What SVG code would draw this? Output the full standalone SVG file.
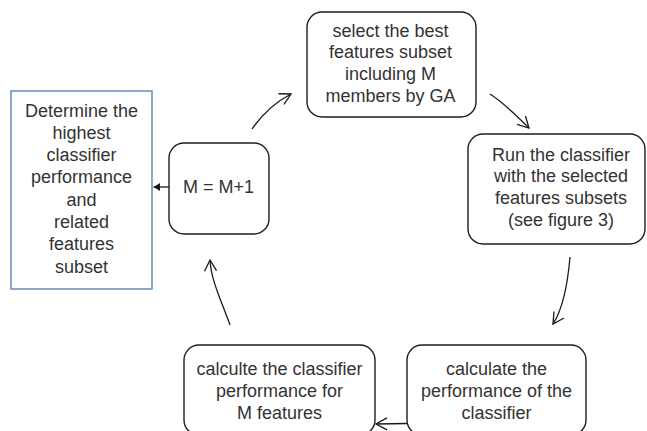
<svg xmlns="http://www.w3.org/2000/svg" width="647" height="431" viewBox="0 0 647 431">
<defs>
<style>
.box{fill:#fff;stroke:#1e1e1e;stroke-width:1.4}
.blue{fill:#fff;stroke:#6f93bb;stroke-width:1.6}
text{font-family:"Liberation Sans",Arial,sans-serif;font-size:18px;fill:#333;text-anchor:middle}
.c{fill:none;stroke:#1a1a1a;stroke-width:1.3}
</style>
<marker id="open" markerUnits="userSpaceOnUse" markerWidth="20" markerHeight="20" viewBox="-14 -10 20 20" refX="0" refY="0" orient="auto">
<path d="M-11,-6 L0,0 L-11,6" fill="none" stroke="#1a1a1a" stroke-width="1.3"/>
</marker>
<marker id="fill" markerUnits="userSpaceOnUse" markerWidth="12" markerHeight="12" viewBox="-8 -6 12 12" refX="0" refY="0" orient="auto">
<path d="M-6.5,-4 L0,0 L-6.5,4 Z" fill="#1a1a1a"/>
</marker>
</defs>
<g id="connectors">
<path class="c" d="M252,129 Q268,106 291,94" marker-end="url(#open)"/>
<path class="c" d="M490,94 Q504,103 529,128" marker-end="url(#open)"/>
<path class="c" d="M570,257 Q566,304 553,324" marker-end="url(#open)"/>
<path class="c" d="M407,423.5 L376,424" marker-end="url(#open)"/>
<path class="c" d="M230,325 C221,300 211,280 210,260" marker-end="url(#open)"/>
<path class="c" d="M169,187 L153.5,187" marker-end="url(#fill)"/>
</g>
<g id="n_determine">
<rect class="blue" x="11" y="91" width="141" height="198"/>
<text x="81.5" y="116.5">Determine the</text>
<text x="81.5" y="138.8">highest</text>
<text x="81.5" y="161.1">classifier</text>
<text x="81.5" y="183.4">performance</text>
<text x="81.5" y="205.7">and</text>
<text x="81.5" y="228">related</text>
<text x="81.5" y="250.3">features</text>
<text x="81.5" y="272.6">subset</text>
</g>
<g id="n_increment">
<rect class="box" x="169" y="143" width="100" height="91" rx="15"/>
<text x="218.5" y="193.3">M = M+1</text>
</g>
<g id="n_select">
<rect class="box" x="307" y="12" width="169" height="105" rx="15"/>
<text x="390.5" y="36.7">select the best</text>
<text x="390.5" y="58.4">features subset</text>
<text x="390.5" y="80.1">including M</text>
<text x="390.5" y="101.8">members by GA</text>
</g>
<g id="n_run">
<rect class="box" x="468" y="134" width="177" height="110" rx="15"/>
<text x="561" y="160.5">Run the classifier</text>
<text x="561" y="182.2">with the selected</text>
<text x="561" y="203.9">features subsets</text>
<text x="561" y="225.6">(see figure 3)</text>
</g>
<g id="n_calc_perf">
<rect class="box" x="407" y="345" width="179" height="90" rx="15"/>
<text x="496.5" y="375">calculate the</text>
<text x="496.5" y="397">performance of the</text>
<text x="496.5" y="419">classifier</text>
</g>
<g id="n_calc_m">
<rect class="box" x="184" y="345" width="191" height="90" rx="15"/>
<text x="279.5" y="375">calculte the classifier</text>
<text x="279.5" y="397">performance for</text>
<text x="279.5" y="419">M features</text>
</g>
</svg>
